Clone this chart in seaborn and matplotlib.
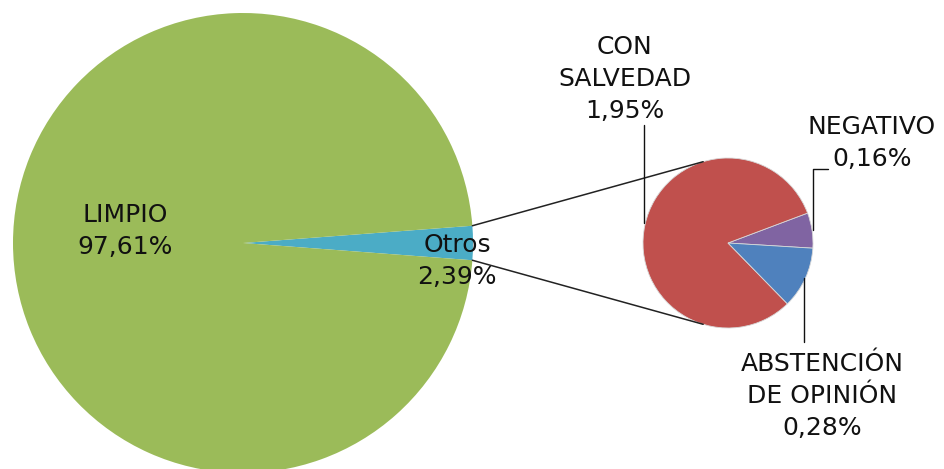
import numpy as np
import matplotlib

matplotlib.use("Agg")
import matplotlib.pyplot as plt
import seaborn as sns

# ---- data --------------------------------------------------------------------
main_labels = ["Otros", "LIMPIO"]
main_values = [2.39, 97.61]
main_text = ["Otros\n2,39%", "LIMPIO\n97,61%"]

sub_labels = ["NEGATIVO", "CON SALVEDAD", "ABSTENCIÓN DE OPINIÓN"]
sub_values = [0.16, 1.95, 0.28]
sub_text = ["NEGATIVO\n0,16%", "CON\nSALVEDAD\n1,95%", "ABSTENCIÓN\nDE OPINIÓN\n0,28%"]

main_colors = ["#4BACC6", "#9BBB59"]
sub_colors = ["#8064A2", "#C0504D", "#4F81BD"]

sns.set_theme(style="white")
plt.rcParams["font.family"] = ["DejaVu Sans"]

W, H = 945, 469
fig = plt.figure(figsize=(W / 100, H / 100), dpi=100)
ax = fig.add_axes([0, 0, 1, 1])

main_c, main_r = (243, H - 243), 230
sub_c, sub_r = (728, H - 243), 85

otros_span = main_values[0] / sum(main_values) * 360
ax.pie(main_values, colors=main_colors, startangle=-otros_span / 2,
       center=main_c, radius=main_r, frame=True,
       wedgeprops=dict(linewidth=0))
ax.pie(sub_values, colors=sub_colors, startangle=-3.5,
       center=sub_c, radius=sub_r, frame=True,
       wedgeprops=dict(linewidth=0.6, edgecolor="#d8d8d8"))
ax.set_xlim(0, W)
ax.set_ylim(0, H)
ax.set_aspect("equal")
ax.axis("off")

# connector lines from the "Otros" wedge to the secondary pie
for sgn in (1, -1):
    a0 = np.deg2rad(sgn * otros_span / 2)
    a1 = np.deg2rad(sgn * 107)
    x0 = main_c[0] + main_r * np.cos(a0)
    y0 = main_c[1] + main_r * np.sin(a0)
    x1 = sub_c[0] + sub_r * np.cos(a1)
    y1 = sub_c[1] + sub_r * np.sin(a1)
    ax.plot([x0, x1], [y0, y1], color="#222222", lw=1.1)

fs = 18
txt = dict(ha="center", va="center", fontsize=fs, color="#111111", linespacing=1.4)
ax.text(125, H - 231, main_text[1], **txt)
ax.text(457, H - 261, main_text[0], **txt)
ax.text(625, H - 79, sub_text[1], **txt)
ax.text(872, H - 143, sub_text[0], **txt)
ax.text(822, H - 396, sub_text[2], **txt)

# leader lines
lk = dict(color="#111111", lw=1.0)
ax.plot([644, 644], [H - 125, H - 223], **lk)
ax.plot([828, 813, 813], [H - 169, H - 169, H - 230], **lk)
ax.plot([804, 804], [H - 278, H - 342], **lk)

fig.savefig("out.png", dpi=100)
